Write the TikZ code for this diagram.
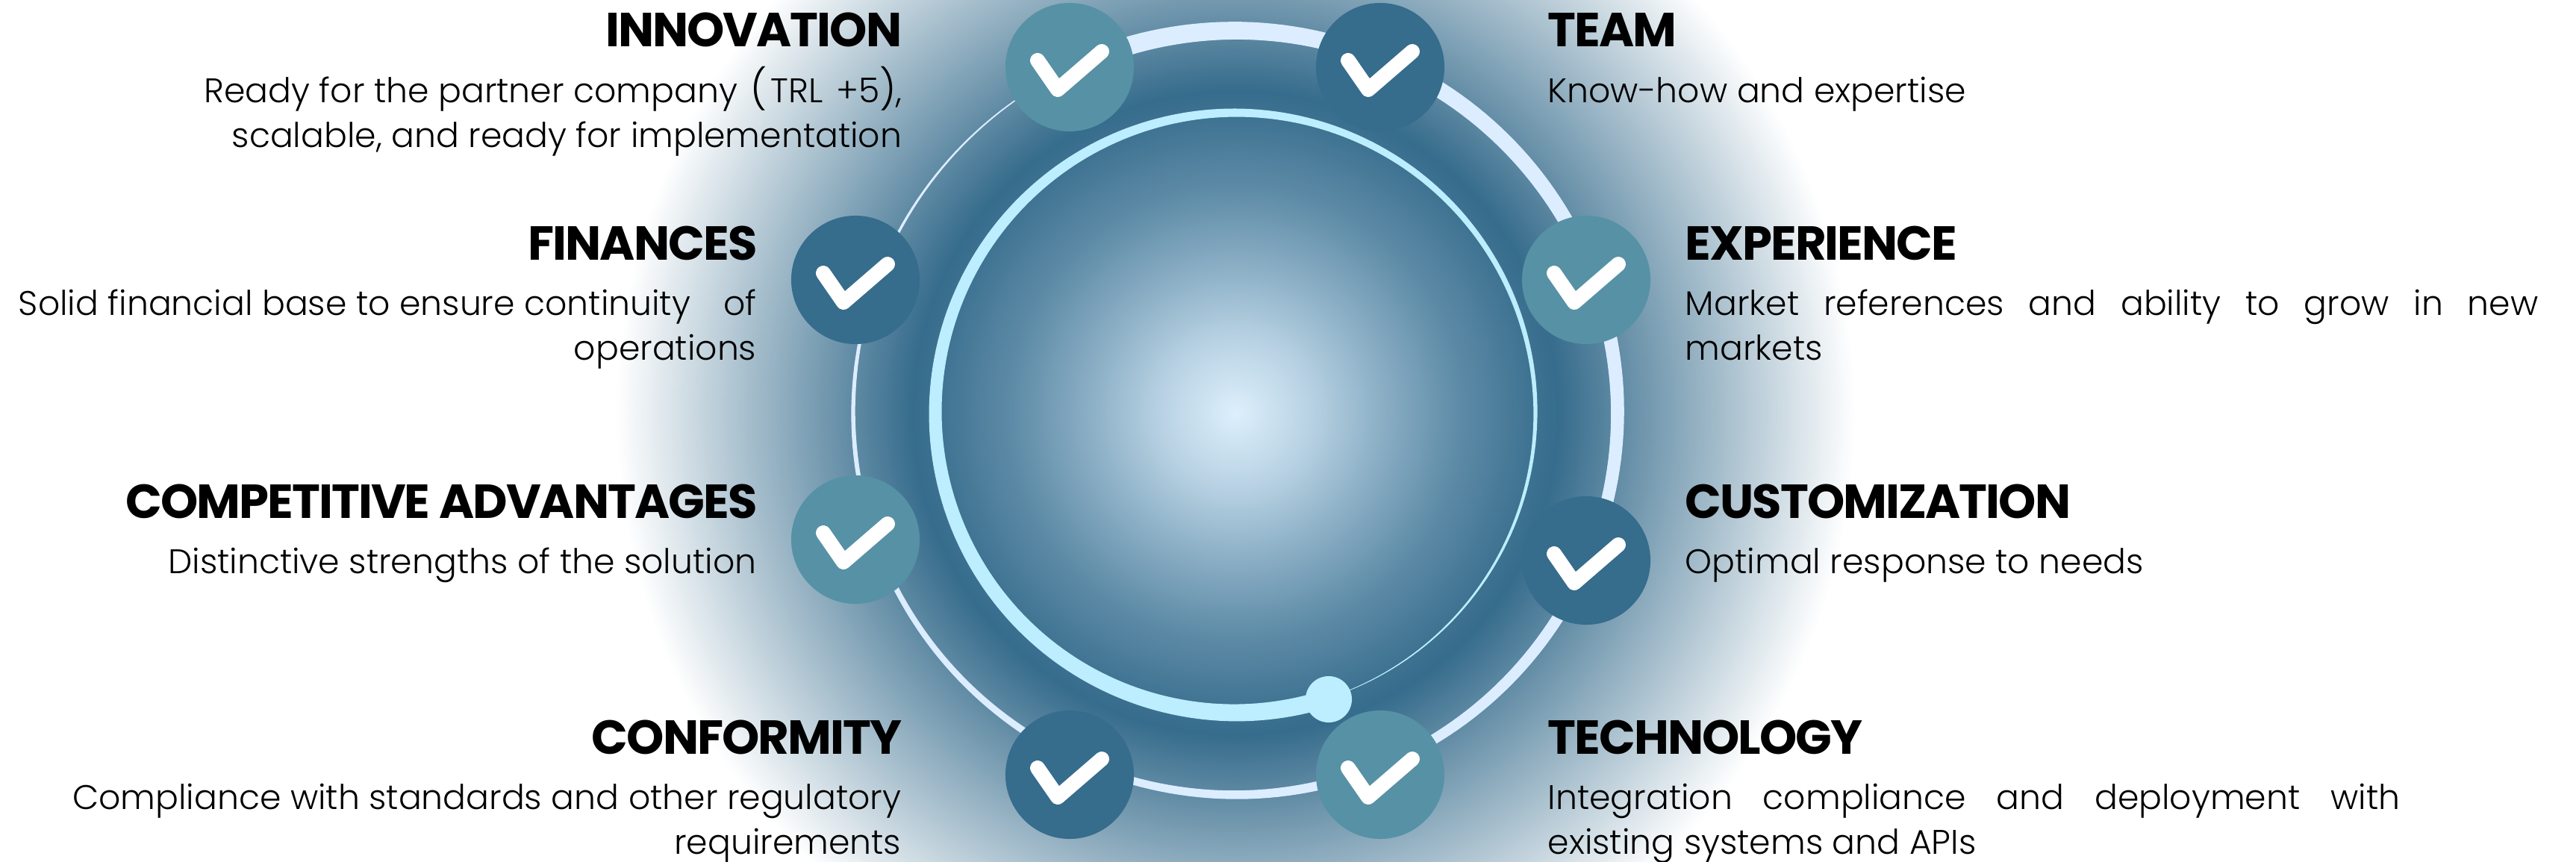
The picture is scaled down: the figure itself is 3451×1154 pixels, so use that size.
\documentclass[tikz,border=0pt]{standalone}
\usepackage{fontspec}
\setmainfont{Poppins}[UprightFont=* Light,BoldFont=* Bold]
\newfontfamily\TitleFont{Poppins Bold}[LetterSpace=-3]
\usepackage{xcolor}
\definecolor{ColPale}{HTML}{DDEFFC}
\definecolor{ColDark}{HTML}{366C8C}
\definecolor{ColTeal}{HTML}{5791A5}
\definecolor{ColOuter}{HTML}{DCEDFF}
\definecolor{ColInner}{HTML}{BCEEFF}
\pgfdeclareradialshading{Glow}{\pgfpoint{0bp}{0bp}}{
    color(0bp)=(ColPale);
    color(3bp)=(ColPale!78!ColDark);
    color(6bp)=(ColPale!50!ColDark);
    color(9bp)=(ColPale!24!ColDark);
    color(12bp)=(ColPale!5!ColDark);
    color(13bp)=(ColDark);
    color(25bp)=(white)}
\tikzstyle{Title}=[inner sep=0pt,font=\TitleFont\fontsize{18.2}{20}\selectfont]
\tikzstyle{Body}=[inner sep=0pt,font=\fontsize{13}{16.93}\selectfont]
\tikzstyle{BadgeDark}=[circle,fill=ColDark,minimum size=1.72cm,inner sep=0pt]
\tikzstyle{BadgeTeal}=[circle,fill=ColTeal,minimum size=1.72cm,inner sep=0pt]
\tikzstyle{Tick}=[draw=white,line width=20*0.284pt,line cap=round,line join=round]
% radius, start angle, thick width, thin width
\newcommand{\TaperRing}[4]{
    plot[domain=0:1,samples=241,variable=\t]
        ({1655+(#1+(#3-(#3-#4)*\t)/2)*cos(#2-360*\t)},
         {553-(#1+(#3-(#3-#4)*\t)/2)*sin(#2-360*\t)})
    -- plot[domain=1:0,samples=241,variable=\t]
        ({1655+(#1-(#3-(#3-#4)*\t)/2)*cos(#2-360*\t)},
         {553-(#1-(#3-(#3-#4)*\t)/2)*sin(#2-360*\t)})
    -- cycle}
\newcommand{\Spread}[2]{\makebox[#1][s]{#2}}
\newcommand{\BigParen}[1]{{\fontsize{15}{15}\selectfont\raisebox{-.012cm}{#1}}}
\begin{document}
\begin{tikzpicture}[x=.01cm,y=-.01cm]
    \clip(0,0)rectangle(3451,1154);
    \shade[shading=Glow](1655,553)circle(830);
    \fill[ColOuter]\TaperRing{512}{116}{25.5}{1};
    \fill[ColInner]\TaperRing{402}{-72}{24}{.5};
    \node[circle,fill=ColInner,minimum size=.62cm,inner sep=0pt](dot)at(1780,937){};
    \node[BadgeTeal](innovation)at(1433,90){};
    \node[BadgeDark](team)at(1849,90){};
    \node[BadgeDark](finances)at(1146,375){};
    \node[BadgeTeal](experience)at(2125,375){};
    \node[BadgeTeal](advantages)at(1146,723){};
    \node[BadgeDark](customization)at(2125,751){};
    \node[BadgeDark](conformity)at(1433,1038){};
    \node[BadgeTeal](technology)at(1849,1038){};
    \foreach \n in {innovation,team,finances,experience,advantages,customization,conformity,technology}
        \draw[Tick]([shift={(-43,-9)}]\n.center)--([shift={(-16,30)}]\n.center)--([shift={(43,-21)}]\n.center);
    \node[Title,anchor=base east](innovationT)at(1209,62){INNOVATION};
    \node[Body,anchor=base east,align=right](innovationB)at(1209,197){Ready for the partner company\kern.05cm\ \BigParen{(}\kern.05cm TRL\kern.05cm\ +5\BigParen{)},\\scalable, and ready for implementation};
    \node[Title,anchor=base east](financesT)at(1015,348){FINANCES};
    \node[Body,anchor=base east,align=right](financesB)at(1014,482){Solid financial base to ensure continuity\hspace{.44cm}of\\operations};
    \node[Title,anchor=base east](advantagesT)at(1015,694){COMPETITIVE ADVANTAGES};
    \node[Body,anchor=base east,align=right](advantagesB)at(1014,768){Distinctive strengths of the solution};
    \node[Title,anchor=base east](conformityT)at(1209,1010){CONFORMITY};
    \node[Body,anchor=base east,align=right](conformityB)at(1208,1144){Compliance with standards and other regulatory\\requirements};
    \node[Title,anchor=base west](teamT)at(2073,62){TEAM};
    \node[Body,anchor=base west,align=left](teamB)at(2073,137){Know-how and expertise};
    \node[Title,anchor=base west](experienceT)at(2257,348){EXPERIENCE};
    \node[Body,anchor=base west,align=left](experienceB)at(2257,482){\Spread{11.42cm}{Market references and ability to grow in new}\\markets};
    \node[Title,anchor=base west](customizationT)at(2257,694){CUSTOMIZATION};
    \node[Body,anchor=base west,align=left](customizationB)at(2257,768){Optimal response to needs};
    \node[Title,anchor=base west](technologyT)at(2073,1010){TECHNOLOGY};
    \node[Body,anchor=base west,align=left](technologyB)at(2073,1144){\Spread{11.41cm}{Integration compliance and deployment with}\\existing systems and APIs};
\end{tikzpicture}
\end{document}
